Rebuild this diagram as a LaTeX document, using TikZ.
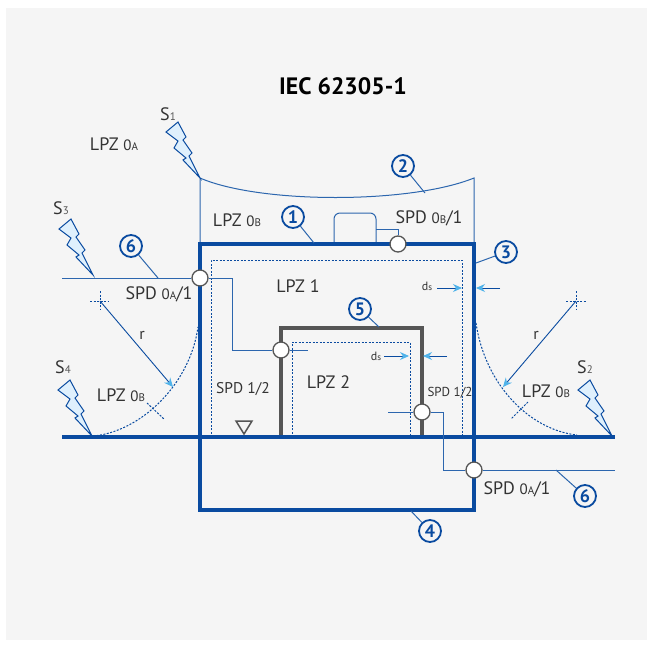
\documentclass[tikz,border=0pt]{standalone}
\usepackage{fontspec}
\setmainfont{PT Sans}
\usepackage{tikz}
\usetikzlibrary{arrows.meta}
\definecolor{panelgray}{HTML}{F5F5F5}
\definecolor{lpzblue}{HTML}{0A4BA0}
\definecolor{wireblue}{HTML}{2C66AE}
\definecolor{tipblue}{HTML}{4FB3EA}
\definecolor{boltfill}{HTML}{DFF0FD}
\definecolor{shieldgray}{HTML}{555555}
\definecolor{labelgray}{HTML}{333333}
\newcommand{\zonesub}[2]{{\fontsize{15}{15}\selectfont #1}{\fontsize{11}{11}\selectfont #2}}
\newcommand{\srcsub}[1]{{\fontsize{11}{11}\selectfont\color{shieldgray}#1}}
\tikzset{
    lbl/.style={text=labelgray,font=\fontsize{18}{20}\selectfont,inner sep=0pt},
    smalllbl/.style={text=labelgray,font=\fontsize{15.5}{17}\selectfont,inner sep=0pt},
    shield/.style={draw=lpzblue,line width=4pt},
    wall/.style={draw=shieldgray,line width=4pt},
    wire/.style={draw=wireblue,line width=1pt},
    zoneline/.style={draw=lpzblue,line width=1pt,dash pattern=on 2pt off 1.5pt},
    spd/.style={circle,draw=shieldgray,fill=white,line width=1.3pt,minimum size=16pt,inner sep=0pt},
    bubble/.style={circle,draw=lpzblue,line width=1.8pt,minimum size=22pt,inner sep=0pt,text=lpzblue,font=\fontsize{18}{18}\selectfont\bfseries},
    dim/.style={draw=lpzblue,line width=0.9pt,-{Stealth[length=9pt,width=8pt,color=tipblue]}}
}
\begin{document}
\begin{tikzpicture}[x=1pt,y=-1pt]
    \useasboundingbox (0,0) rectangle (653,646);
    \fill[panelgray] (6,8) rectangle (647,640);
    % roof
    \draw[wire] (200,244) -- (200,178) .. controls (260,204) and (410,204) .. (474,178) -- (474,244);
    \draw[wire,rounded corners=6pt] (334,244) -- (334,213) -- (376,213) -- (376,244);
    % zones
    \draw[zoneline] (211,437) -- (211,260) -- (462,260) -- (462,437);
    \draw[zoneline] (292,437) -- (292,342) -- (410,342) -- (410,437);
    % radius arcs
    \draw[zoneline] (93,436) .. controls (140,432) and (190,385) .. (198,327);
    \draw[zoneline] (476,323) .. controls (485,385) and (530,430) .. (577,435);
    \draw[zoneline] (147,403) -- (164,419);
    \draw[zoneline] (528,402) -- (511,419);
    \draw[zoneline] (90,301) -- (109,301);
    \draw[zoneline] (100,291) -- (100,310);
    \draw[zoneline] (566,301) -- (586,301);
    \draw[zoneline] (576,291) -- (576,310);
    \draw[dim] (100,301) -- (173,387);
    \draw[dim] (576,301) -- (503,387);
    % structure
    \draw[wall] (281,437) -- (281,328) -- (422,328) -- (422,437);
    \draw[shield] (62,437) -- (615,437);
    \draw[shield] (200,244) rectangle (474,510);
    % ds arrows
    \draw[dim] (437,288) -- (462,288);
    \draw[dim] (500,288) -- (476,288);
    \draw[dim] (384,356) -- (409,356);
    \draw[dim] (447,356) -- (423,356);
    % lightning
    \foreach \tipx/\tipy in {200/178,93/275,92/436,612/436}{
        \draw[lpzblue,fill=boltfill,line width=1pt,line join=miter,shift={(\tipx,\tipy)}]
            (-22,-56) -- (-14,-41) -- (-17,-38) -- (-8,-25) -- (-11,-22) -- (0,0)
            -- (-17,-18) -- (-14,-20) -- (-26,-30) -- (-22,-37) -- (-34,-46) -- cycle;
    }
    \draw[draw=shieldgray,line width=1.5pt] (236,421) -- (252,421) -- (244,434) -- cycle;
    % spd
    \node[spd] (spdwest) at (200,278) {};
    \node[spd] (spdroof) at (398,244) {};
    \node[spd] (spdinner) at (281,350) {};
    \node[spd] (spdright) at (422,412) {};
    \node[spd] (spdeast) at (474,470) {};
    \coordinate (lineW) at (62,278);
    \coordinate (lineE) at (615,470);
    \coordinate (stubinner) at (308,350);
    \coordinate (stubright) at (388,412);
    \coordinate (roofbox) at (376,229);
    \draw[wire] (lineW) -- (spdwest);
    \draw[wire] (spdwest) -- (232,278) -- (232,350) -- (spdinner);
    \draw[wire] (spdinner) -- (stubinner);
    \draw[wire] (stubright) -- (spdright);
    \draw[wire] (spdright) -- (443,412) -- (443,470) -- (spdeast);
    \draw[wire] (spdeast) -- (lineE);
    \draw[wire] (roofbox) -- (398,229) -- (spdroof);
    % numbered bubbles
    \node[bubble] (numA) at (293,217) {1};
    \node[bubble] (numB) at (403,166) {2};
    \node[bubble] (numC) at (506,252) {3};
    \node[bubble] (numD) at (430,531) {4};
    \node[bubble] (numE) at (360,309) {5};
    \node[bubble] (numF) at (131,246) {6};
    \node[bubble] (numG) at (585,496) {6};
    \coordinate (ptA) at (314,243);
    \coordinate (ptB) at (425,193);
    \coordinate (ptC) at (476,263);
    \coordinate (ptD) at (411,511);
    \coordinate (ptE) at (379,327);
    \coordinate (ptF) at (158,278);
    \coordinate (ptG) at (556,470);
    \draw[wire] (numA) -- (ptA);
    \draw[wire] (numB) -- (ptB);
    \draw[wire] (numC) -- (ptC);
    \draw[wire] (numD) -- (ptD);
    \draw[wire] (numE) -- (ptE);
    \draw[wire] (numF) -- (ptF);
    \draw[wire] (numG) -- (ptG);
    % labels
    \node[inner sep=0pt,text=black,font=\fontsize{23.7}{26}\selectfont\bfseries] (title) at (343,86) {IEC 62305-1};
    \node[lbl] (srcA) at (168,114) {S\srcsub{1}};
    \node[lbl] (srcC) at (61,208) {S\srcsub{3}};
    \node[lbl] (srcD) at (63,367) {S\srcsub{4}};
    \node[lbl] (srcB) at (585,367) {S\srcsub{2}};
    \node[lbl] (lpzA) at (114,144) {LPZ \zonesub{0}{A}};
    \node[lbl] (lpzB) at (237,220) {LPZ \zonesub{0}{B}};
    \node[lbl] (lpzC) at (121,395) {LPZ \zonesub{0}{B}};
    \node[lbl] (lpzD) at (546,391) {LPZ \zonesub{0}{B}};
    \node[lbl] (lpzE) at (298,286) {LPZ 1};
    \node[lbl] (lpzF) at (328.5,382) {LPZ 2};
    \node[lbl] (spdroofT) at (429,218) {SPD \zonesub{0}{B}/1};
    \node[lbl] (spdwestT) at (159,294) {SPD \zonesub{0}{A}/1};
    \node[lbl] (spdeastT) at (517,489) {SPD \zonesub{0}{A}/1};
    \node[smalllbl] (spdinnerT) at (243,389) {SPD 1/2};
    \node[text=labelgray,font=\fontsize{13}{15}\selectfont,inner sep=0pt] (spdrightT) at (450,393) {SPD 1/2};
    \node[lbl,font=\fontsize{16}{18}\selectfont] (rA) at (142,335) {r};
    \node[lbl,font=\fontsize{16}{18}\selectfont] (rB) at (536,335) {r};
    \node[text=labelgray,font=\fontsize{12}{14}\selectfont,inner sep=0pt] (dsA) at (427,286) {d{\fontsize{9}{9}\selectfont s}};
    \node[text=labelgray,font=\fontsize{12}{14}\selectfont,inner sep=0pt] (dsB) at (376,356) {d{\fontsize{9}{9}\selectfont s}};
\end{tikzpicture}
\end{document}
